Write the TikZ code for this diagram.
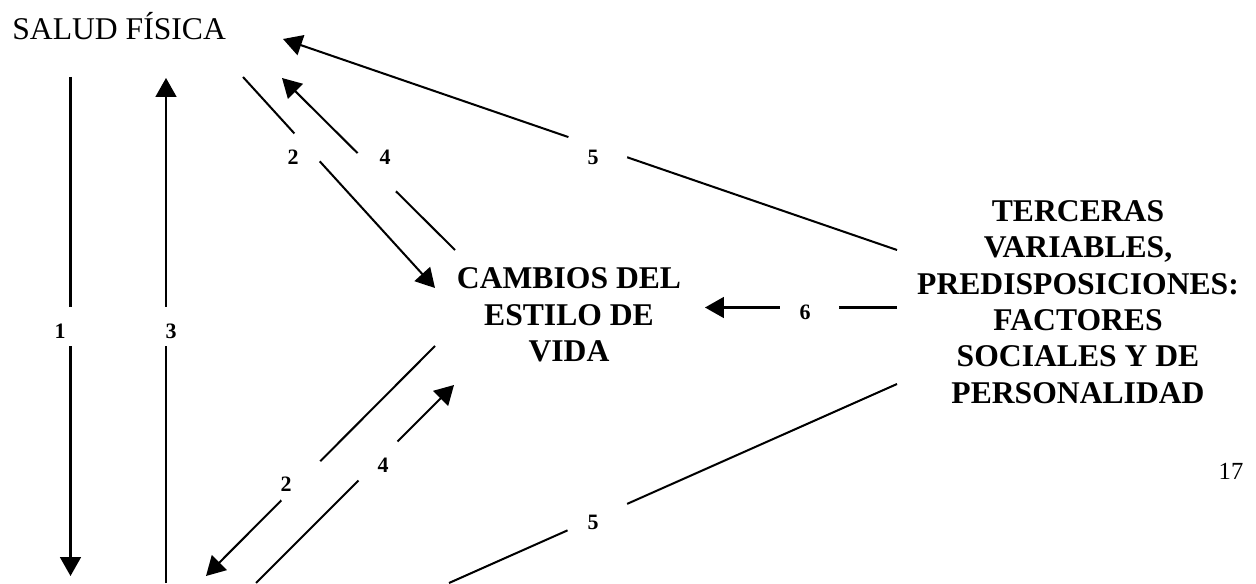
\documentclass[tikz,border=0pt]{standalone}
\usepackage{fontspec}
\setmainfont{Liberation Serif}
\usetikzlibrary{arrows.meta}

\begin{document}
\begin{tikzpicture}[
    title/.style={font=\fontsize{18}{20.7}\selectfont, inner sep=0pt},
    factor/.style={font=\fontsize{18}{20.7}\selectfont\bfseries, align=center, inner sep=0pt},
    num/.style={font=\fontsize{12.5}{14}\selectfont\bfseries, inner sep=0pt},
    page/.style={font=\fontsize{14}{16}\selectfont, inner sep=0pt},
    link/.style={line width=1.15pt, -{Triangle[length=10.8pt, width=11.9pt]}},
    plain/.style={line width=1.15pt}
]
\useasboundingbox (0,0) rectangle (25.12,11.66);

% Blocks
\node[title, anchor=base west] (salud) at (0.24,10.86) {SALUD FÍSICA};
\node[factor] (cambios) at (11.38,5.36) {CAMBIOS DEL\\ESTILO DE\\VIDA};
\node[factor] (terceras) at (21.56,5.62) {TERCERAS\\VARIABLES,\\PREDISPOSICIONES:\\FACTORES\\SOCIALES Y DE\\PERSONALIDAD};
\node[page] (pagina) at (24.62,2.24) {17};

% Arrow ends
\coordinate (s1) at (1.41,10.12);  \coordinate (m1) at (1.41,0.14);
\coordinate (m3) at (3.32,0);      \coordinate (s3) at (3.32,10.10);
\coordinate (s2) at (4.86,10.12);  \coordinate (c2) at (8.70,5.90);
\coordinate (c4) at (9.10,6.66);   \coordinate (s4) at (5.64,10.10);
\coordinate (t5) at (17.94,6.66);  \coordinate (s5) at (5.66,10.88);
\coordinate (t6) at (17.94,5.51);  \coordinate (c6) at (14.10,5.51);
\coordinate (c2b) at (8.70,4.74);  \coordinate (m2) at (4.12,0.14);
\coordinate (m4) at (5.12,0);      \coordinate (c4b) at (9.08,3.96);
\coordinate (t5b) at (17.94,3.98); \coordinate (m5) at (8.98,0);

% Arrows
\draw[link] (s1) -- (m1);
\draw[link] (m3) -- (s3);
\draw[link] (s2) -- (c2);
\draw[link] (c4) -- (s4);
\draw[link] (t5) -- (s5);
\draw[link] (t6) -- (c6);
\draw[link] (c2b) -- (m2);
\draw[link] (m4) -- (c4b);
\draw[plain] (t5b) -- (m5);

% White gaps under the numbers
\foreach \p/\r in {{(1.41,5.13)}/0.39, {(3.32,5.13)}/0.39, {(6.15,8.72)}/0.375,
    {(7.53,8.21)}/0.54, {(11.95,8.70)}/0.62, {(16.19,5.51)}/0.59,
    {(6.02,2.04)}/0.55, {(7.55,2.45)}/0.55, {(11.95,1.31)}/0.65}
    \fill[white] \p circle (\r);

% Numbers
\node[num] (n1) at (1.20,5.04) {1};
\node[num] (n3) at (3.42,5.04) {3};
\node[num] (n2a) at (5.86,8.52) {2};
\node[num] (n4a) at (7.70,8.52) {4};
\node[num] (n5a) at (11.86,8.52) {5};
\node[num] (n6) at (16.10,5.42) {6};
\node[num] (n2b) at (5.72,1.98) {2};
\node[num] (n4b) at (7.66,2.36) {4};
\node[num] (n5b) at (11.86,1.22) {5};

\end{tikzpicture}
\end{document}
